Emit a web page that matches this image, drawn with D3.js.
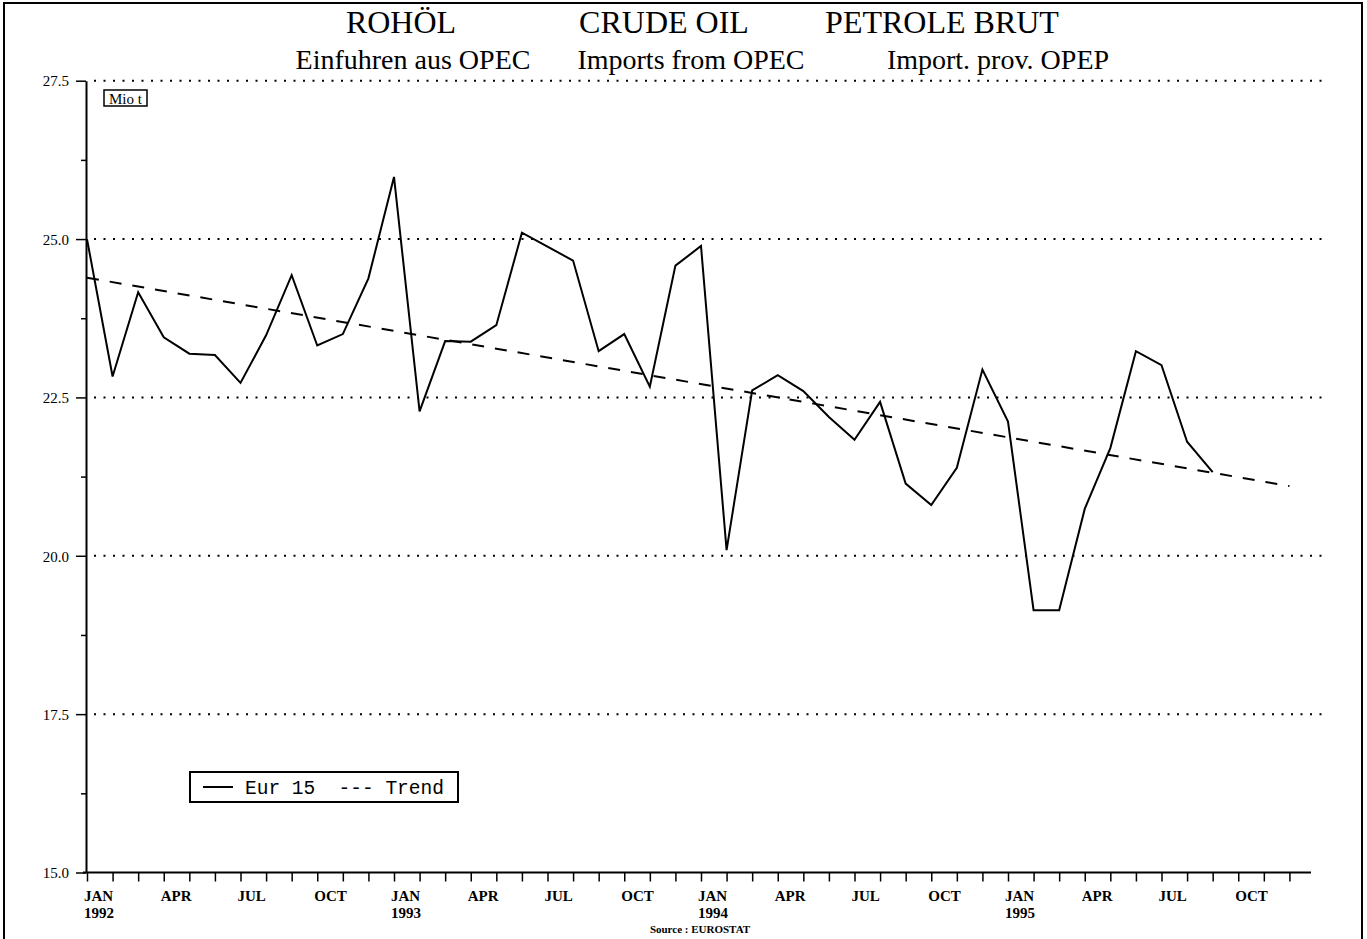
<!DOCTYPE html>
<html><head><meta charset="utf-8">
<script src="https://cdn.jsdelivr.net/npm/d3@7"></script>
<style>
html,body{margin:0;padding:0;background:#fff;}
svg{display:block;}
text{fill:#000;}
.serif{font-family:"Liberation Serif","Times New Roman",serif;}
.mono{font-family:"Liberation Mono","Courier New",monospace;white-space:pre;}
</style></head>
<body>
<svg id="c" width="1367" height="939"></svg>
<script>
// ---- data ----
const monthNames = ["JAN","APR","JUL","OCT"];
const years = ["1992","1993","1994","1995"];
const nMonths = 48;
// Eur 15 imports of crude oil from OPEC, Mio t, monthly from JAN 1992
const eur15 = [25.00, 22.83, 24.16, 23.45, 23.19, 23.17, 22.73, 23.48, 24.43, 23.32, 23.50, 24.38,
               25.98, 22.28, 23.39, 23.38, 23.64, 25.10, 24.88, 24.66, 23.23, 23.50, 22.67, 24.58,
               24.89, 20.09, 22.61, 22.85, 22.60, 22.19, 21.83, 22.43, 21.14, 20.80, 21.39, 22.94,
               22.12, 19.14, 19.14, 20.74, 21.70, 23.23, 23.01, 21.80, 21.32];
const trendIdx = [0, 47];
const trendVals = [24.39, 21.10];
const yTicks = [15.0, 17.5, 20.0, 22.5, 25.0, 27.5];
const yMinor = [16.25, 18.75, 21.25, 23.75, 26.25];
const titles = ["ROHÖL", "CRUDE OIL", "PETROLE BRUT"];
const subtitles = ["Einfuhren aus OPEC", "Imports from OPEC", "Import. prov. OPEP"];

// ---- layout ----
const svg = d3.select("#c");
const x = d3.scaleLinear().domain([0, 48]).range([87, 1315]);
const y = d3.scaleLinear().domain([15, 27.5]).range([872.5, 80.7]);

// outer frame
svg.append("path").attr("d", "M4,945 L4,3 L1362,3 L1362,945")
  .attr("fill", "none").attr("stroke", "#000").attr("stroke-width", 2);

// titles
const titleX = [401, 664, 942];
const subX = [413, 691, 998];
titles.forEach((t, i) => svg.append("text").attr("class", "serif").attr("x", titleX[i]).attr("y", 33)
  .attr("text-anchor", "middle").attr("font-size", 32).text(t));
subtitles.forEach((t, i) => svg.append("text").attr("class", "serif").attr("x", subX[i]).attr("y", 69)
  .attr("text-anchor", "middle").attr("font-size", 28).text(t));

// gridlines (dotted)
svg.append("g").selectAll("line").data(yTicks.filter(v => v > 15)).join("line")
  .attr("x1", 94).attr("x2", 1322)
  .attr("y1", d => y(d)).attr("y2", d => y(d))
  .attr("stroke", "#000").attr("stroke-width", 2)
  .attr("stroke-dasharray", "2,7.5");

// y axis
const yAxis = d3.axisLeft(y).tickValues(yTicks).tickSize(10).tickSizeOuter(0)
  .tickFormat(d3.format(".1f"));
const gy = svg.append("g").attr("transform", "translate(86,0)").call(yAxis);
gy.select(".domain").attr("stroke-width", 2);
gy.selectAll(".tick line").attr("stroke-width", 1.5);
gy.selectAll(".tick text").attr("class", "serif")
  .attr("font-size", 15).attr("x", -17).attr("dy", "0.35em");
const gym = svg.append("g").attr("transform", "translate(86,0)")
  .call(d3.axisLeft(y).tickValues(yMinor).tickSize(5).tickFormat(""));
gym.select(".domain").remove();
gym.selectAll(".tick line").attr("stroke-width", 1.5);

// x axis
const xAxis = d3.axisBottom(x).tickValues(d3.range(nMonths)).tickSize(9).tickSizeOuter(0).tickFormat("");
const gx = svg.append("g").attr("transform", `translate(0,${y(15)})`).call(xAxis);
gx.select(".domain").attr("stroke-width", 2).attr("d", `M${x(0) - 4},0H${x(48) - 4}`);
gx.selectAll(".tick line").attr("stroke-width", 1.5);

// x labels
const quarterIdx = d3.range(0, nMonths, 3);
svg.append("g").selectAll("text").data(quarterIdx).join("text").attr("class", "serif")
  .attr("x", d => x(d) - 3).attr("y", 901)
  .attr("font-size", 15).attr("font-weight", "bold")
  .text(d => monthNames[(d % 12) / 3]);
svg.append("g").selectAll("text").data(years).join("text").attr("class", "serif")
  .attr("x", (d, i) => x(i * 12) - 3).attr("y", 918)
  .attr("font-size", 15).attr("font-weight", "bold")
  .text(d => d);

// source
svg.append("text").attr("class", "serif").attr("x", 700).attr("y", 933).attr("text-anchor", "middle")
  .attr("font-size", 11).attr("font-weight", "bold").text("Source : EUROSTAT");

// unit box
svg.append("rect").attr("x", 104).attr("y", 90).attr("width", 43).attr("height", 16)
  .attr("fill", "none").attr("stroke", "#000").attr("stroke-width", 1.5);
svg.append("text").attr("class", "serif").attr("x", 125.5).attr("y", 103.5).attr("text-anchor", "middle")
  .attr("font-size", 15).text("Mio t");

// series line
const line = d3.line().x((d, i) => x(i)).y(d => y(d));
svg.append("path").datum(eur15).attr("d", line)
  .attr("fill", "none").attr("stroke", "#000").attr("stroke-width", 2)
  .attr("stroke-linejoin", "miter");

// trend line
const tline = d3.line().x(d => x(d[0])).y(d => y(d[1]));
svg.append("path").datum(trendIdx.map((t, i) => [t, trendVals[i]])).attr("d", tline)
  .attr("fill", "none").attr("stroke", "#000").attr("stroke-width", 2)
  .attr("stroke-dasharray", "12,11");

// legend
const lg = svg.append("g");
lg.append("rect").attr("x", 190).attr("y", 772).attr("width", 268).attr("height", 30)
  .attr("fill", "#fff").attr("stroke", "#000").attr("stroke-width", 2);
lg.append("line").attr("x1", 203).attr("x2", 233).attr("y1", 787).attr("y2", 787)
  .attr("stroke", "#000").attr("stroke-width", 2);
lg.append("text").attr("class", "mono").attr("x", 245).attr("y", 794)
  .attr("font-size", 19.5).text("Eur 15  --- Trend");
</script>
</body></html>
